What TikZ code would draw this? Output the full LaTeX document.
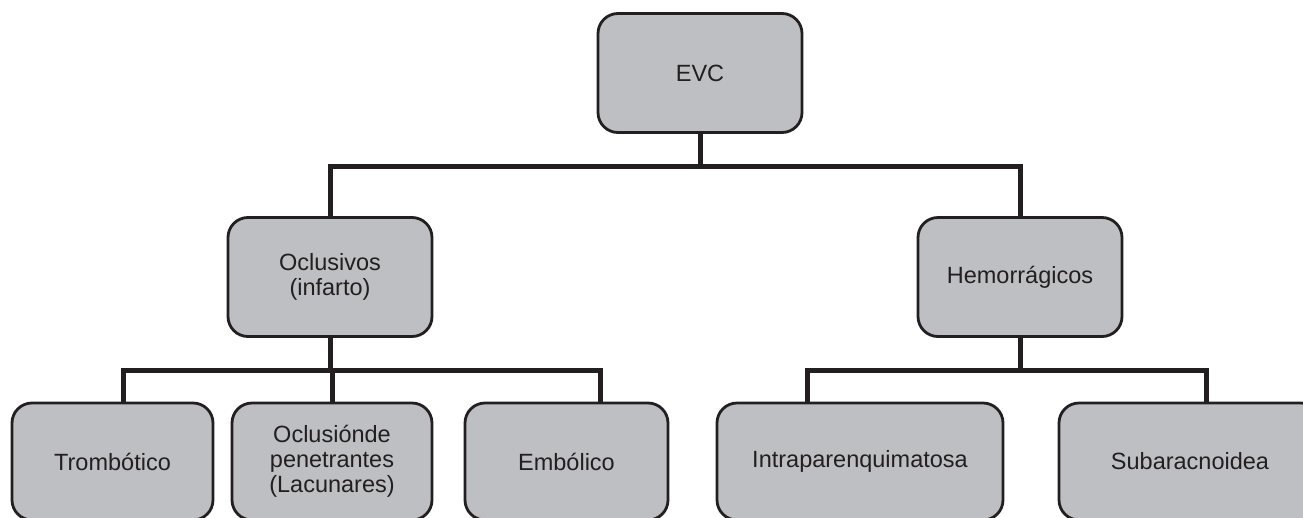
\documentclass[tikz,border=0pt]{standalone}
\usepackage{fontspec}
\setmainfont{Liberation Sans}
\usepackage{xcolor}
\usepackage{tikz}

\definecolor{boxgray}{RGB}{190,191,194}
\definecolor{inkblack}{RGB}{35,31,32}

\begin{document}
\begin{tikzpicture}[x=1pt,y=-1pt,
  box/.style={draw=inkblack, line width=2.8pt, fill=boxgray, rounded corners=20pt,
    minimum height=117pt, text=inkblack, align=center,
    font=\fontsize{23.5}{25}\selectfont, inner sep=0pt},
  link/.style={draw=inkblack, line width=5pt}]
  \useasboundingbox (0,0) rectangle (1303,517);
  \clip (0,0) rectangle (1303,517);

  % top level
  \node[box, minimum width=204pt, minimum height=119pt] (evc) at (700,73) {EVC};

  % second level
  \node[box, minimum width=204pt, minimum height=119pt] (ocl) at (330,277) {Oclusivos\\(infarto)};
  \node[box, minimum width=204pt, minimum height=119pt] (hem) at (1020,277) {Hemorrágicos};

  % third level, cut by the page edge
  \node[box, minimum width=201pt] (tromb) at (112.5,461.5) {Trombótico};
  \node[box, minimum width=200pt] (lac) at (332,461.5) {Oclusiónde\\penetrantes\\(Lacunares)};
  \node[box, minimum width=203pt] (emb) at (566.5,461.5) {Embólico};
  \node[box, minimum width=286pt] (intra) at (860,461.5) {Intraparenquimatosa};
  \node[box, minimum width=262pt] (sub) at (1190,461.5) {Subaracnoidea};

  % connectors
  \draw[link] (evc.south) -- ++(0,33) coordinate (topjoin);
  \draw[link] (ocl.north) |- (topjoin) -| (hem.north);

  \draw[link] (ocl.south) -- ++(0,33) coordinate (leftjoin);
  \draw[link] ([xshift=10.5pt]tromb.north) |- (leftjoin) -| ([xshift=33.5pt]emb.north);
  \draw[link] (lac.north) -- (lac.north |- leftjoin);

  \draw[link] (hem.south) -- ++(0,33) coordinate (rightjoin);
  \draw[link] ([xshift=-53pt]intra.north) |- (rightjoin) -| ([xshift=16pt]sub.north);
\end{tikzpicture}
\end{document}
